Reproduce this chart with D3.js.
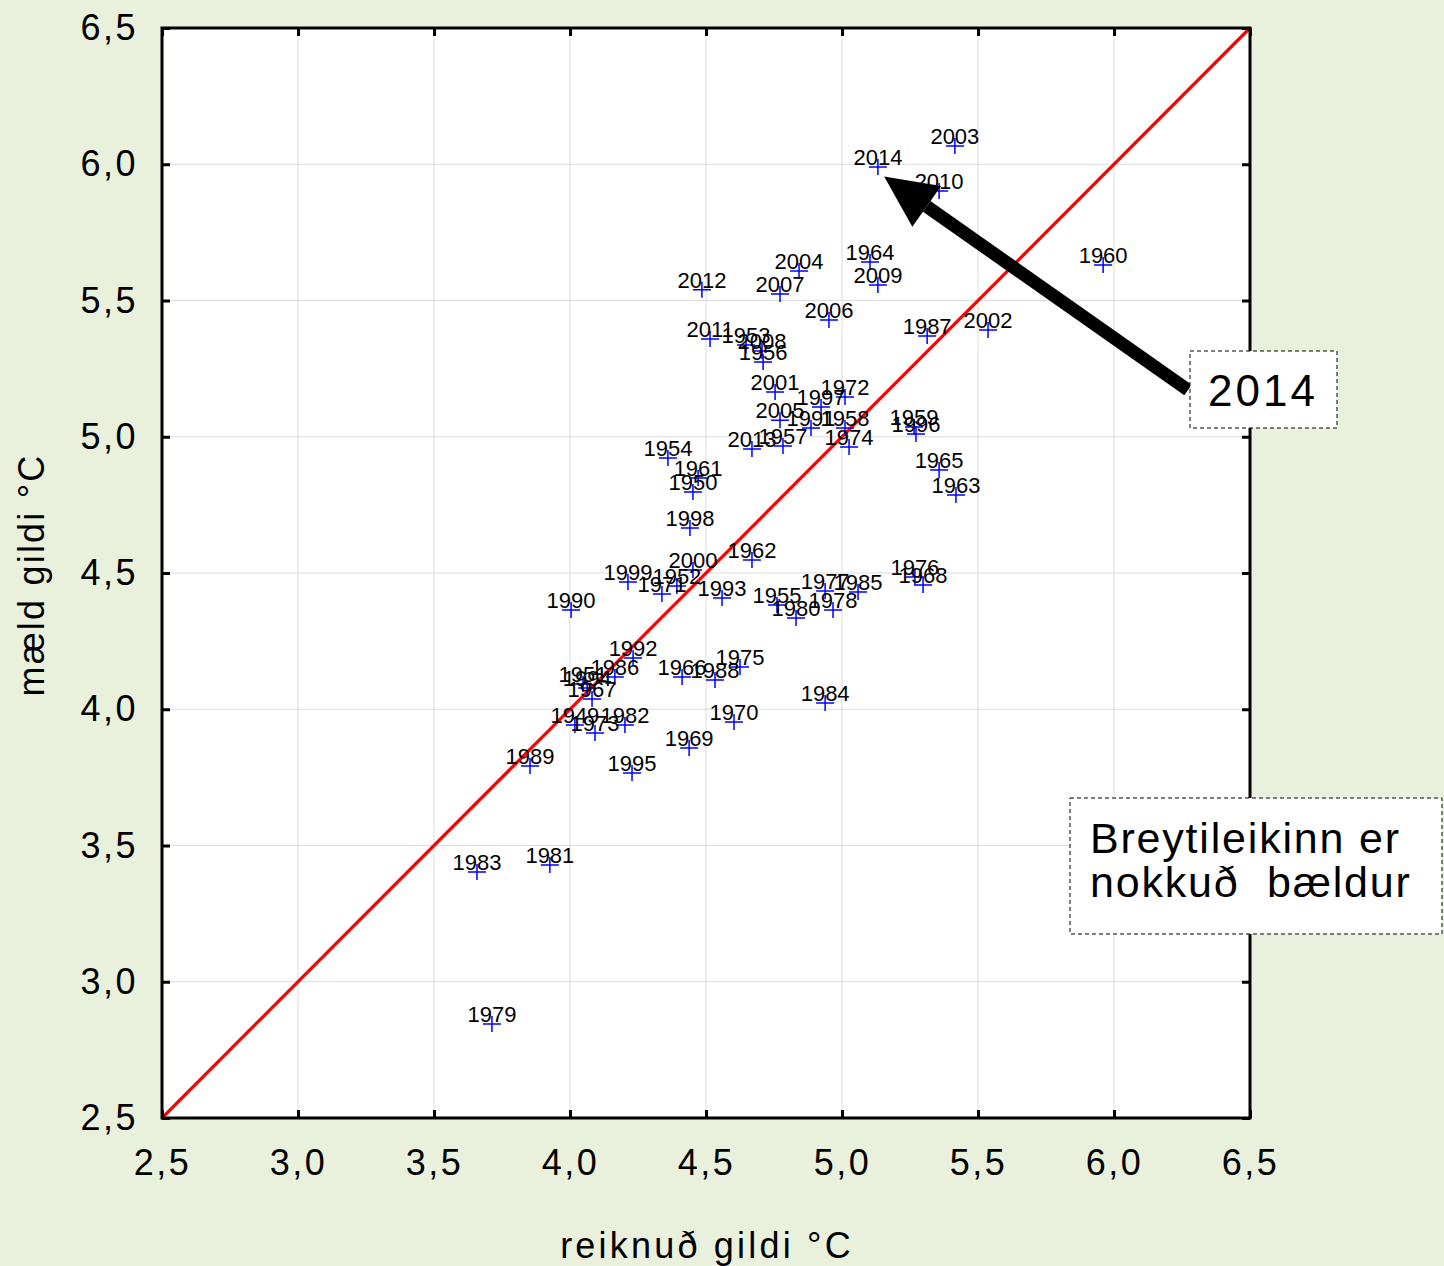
<!DOCTYPE html>
<html><head><meta charset="utf-8">
<script src="https://cdn.jsdelivr.net/npm/d3@7"></script>
<style>
html,body{margin:0;padding:0;background:#e9f0dc;}
svg{display:block;}
text{font-family:"Liberation Sans",Arial,sans-serif;}
</style></head>
<body>
<svg id="chart" width="1444" height="1266"></svg>
<script>
const years = [1949,1950,1951,1952,1953,1954,1955,1956,1957,1958,1959,1960,1961,1962,1963,1964,1965,1966,1967,1968,1969,1970,1971,1972,1973,1974,1975,1976,1977,1978,1979,1980,1981,1982,1983,1984,1985,1986,1987,1988,1989,1990,1991,1992,1993,1994,1995,1996,1997,1998,1999,2000,2001,2002,2003,2004,2005,2006,2007,2008,2009,2010,2011,2012,2013,2014];
const calculated = [4.018,4.452,4.048,4.393,4.647,4.360,4.761,4.710,4.783,5.011,5.265,5.960,4.471,4.669,5.419,5.103,5.357,4.412,4.081,5.298,4.438,4.603,4.338,5.011,4.092,5.026,4.625,5.268,4.938,4.967,3.713,4.831,3.926,4.202,3.658,4.938,5.059,4.165,5.313,4.533,3.853,4.004,4.886,4.232,4.559,4.063,4.228,5.272,4.923,4.441,4.213,4.452,4.754,5.537,5.415,4.842,4.772,4.952,4.772,4.706,5.132,5.357,4.515,4.485,4.669,5.132];
const measured = [3.942,4.797,4.093,4.452,5.337,4.922,4.383,5.274,4.966,5.032,5.036,5.630,4.849,4.548,4.786,5.641,4.878,4.118,4.038,4.456,3.858,3.953,4.423,5.146,3.913,4.962,4.155,4.485,4.434,4.364,2.845,4.335,3.428,3.942,3.403,4.023,4.430,4.118,5.370,4.107,3.792,4.364,5.032,4.188,4.408,4.078,3.766,5.010,5.109,4.665,4.467,4.511,5.164,5.392,6.067,5.608,5.061,5.428,5.524,5.315,5.557,5.902,5.359,5.539,4.955,5.990];
const tickValues = [2.5,3.0,3.5,4.0,4.5,5.0,5.5,6.0,6.5];
const tickLabels = ["2,5","3,0","3,5","4,0","4,5","5,0","5,5","6,0","6,5"];
const xTitle = "reiknuð gildi °C";
const yTitle = "mæld gildi °C";
const calloutYear = "2014";
const noteLines = ["Breytileikinn er","nokkuð  bældur"];
const arrowTip = [5.155, 5.955];

const svg = d3.select("#chart");
const L=162,R=1250,T=28,B=1118;
const x = d3.scaleLinear().domain([2.5,6.5]).range([L,R]);
const y = d3.scaleLinear().domain([2.5,6.5]).range([B,T]);

svg.append("rect").attr("x",L).attr("y",T).attr("width",R-L).attr("height",B-T).attr("fill","#fff");

const grid = svg.append("g");
tickValues.slice(1,-1).forEach(v=>{
  grid.append("line").attr("x1",x(v)).attr("x2",x(v)).attr("y1",T).attr("y2",B).attr("stroke","#dcdcdc").attr("stroke-width",1);
  grid.append("line").attr("x1",L).attr("x2",R).attr("y1",y(v)).attr("y2",y(v)).attr("stroke","#dcdcdc").attr("stroke-width",1);
});

svg.append("line").attr("x1",x(2.5)).attr("y1",y(2.5)).attr("x2",x(6.5)).attr("y2",y(6.5))
  .attr("stroke","#ff0000").attr("stroke-width",3.2);

const pts = svg.append("g");
years.forEach((yr,i)=>{
  const px=x(calculated[i]), py=y(measured[i]);
  pts.append("path").attr("d",`M${px-9},${py}H${px+9}M${px},${py-8}V${py+8}`)
    .attr("stroke","#0000ff").attr("stroke-width",1.5).attr("fill","none");
});
years.forEach((yr,i)=>{
  const px=x(calculated[i]), py=y(measured[i]);
  pts.append("text").attr("x",px).attr("y",py-2).attr("text-anchor","middle")
    .attr("font-size",22).attr("fill","#000").text(yr);
});

const fmt = d => tickLabels[tickValues.indexOf(d)];
const axB = svg.append("g").attr("transform",`translate(0,${B})`).call(d3.axisBottom(x).tickValues(tickValues).tickSize(-8).tickPadding(31).tickFormat(fmt));
const axL = svg.append("g").attr("transform",`translate(${L},0)`).call(d3.axisLeft(y).tickValues(tickValues).tickSize(-8).tickPadding(24).tickFormat(fmt));
const axT = svg.append("g").attr("transform",`translate(0,${T})`).call(d3.axisTop(x).tickValues(tickValues).tickSize(-8).tickFormat(""));
const axR = svg.append("g").attr("transform",`translate(${R},0)`).call(d3.axisRight(y).tickValues(tickValues).tickSize(-8).tickFormat(""));
[axB,axL,axT,axR].forEach(a=>{
  a.select(".domain").remove();
  a.selectAll(".tick line").attr("stroke","#000").attr("stroke-width",3);
  a.selectAll(".tick text").attr("font-size",36).attr("letter-spacing",2.5).attr("fill","#000")
   .style("font-family","'Liberation Sans',Arial,sans-serif");
});
axB.selectAll(".tick text").attr("dy","0.71em");
svg.append("rect").attr("x",L).attr("y",T).attr("width",R-L).attr("height",B-T)
  .attr("fill","none").attr("stroke","#000").attr("stroke-width",3);

svg.append("text").attr("x",(L+R)/2+1).attr("y",1258).attr("text-anchor","middle")
  .attr("font-size",36).attr("letter-spacing",3.2).text(xTitle);
svg.append("text").attr("transform",`translate(44,${(T+B)/2+2}) rotate(-90)`).attr("text-anchor","middle")
  .attr("font-size",36).attr("letter-spacing",2.2).text(yTitle);

// arrow
const tipX = x(arrowTip[0]), tipY = y(arrowTip[1]);
const tailX = 1188, tailY = 390;
const ang = Math.atan2(tipY-tailY, tipX-tailX);
const headLen = 52, headW = 25;
const bx = tipX - headLen*Math.cos(ang), by = tipY - headLen*Math.sin(ang);
svg.append("line").attr("x1",tailX).attr("y1",tailY).attr("x2",bx).attr("y2",by)
  .attr("stroke","#000").attr("stroke-width",13);
const nx = -Math.sin(ang), ny = Math.cos(ang);
svg.append("path").attr("d",`M${tipX},${tipY}L${bx+nx*headW},${by+ny*headW}L${bx-nx*headW},${by-ny*headW}Z`).attr("fill","#000");

svg.append("rect").attr("x",1190).attr("y",351).attr("width",147).attr("height",77)
  .attr("fill","#ffffff").attr("stroke","#000").attr("stroke-width",1).attr("stroke-dasharray","4,3");
svg.append("text").attr("x",1263).attr("y",406).attr("text-anchor","middle").attr("font-size",44).attr("letter-spacing",3).text(calloutYear);

svg.append("rect").attr("x",1070).attr("y",798).attr("width",372).attr("height",136)
  .attr("fill","#ffffff").attr("stroke","#000").attr("stroke-width",1).attr("stroke-dasharray","4,3");
noteLines.forEach((t,i)=>{
  svg.append("text").attr("x",1090).attr("y",853+i*44).attr("font-size",43).attr("letter-spacing",1.8)
    .style("white-space","pre").attr("xml:space","preserve").text(t);
});
</script>
</body></html>
